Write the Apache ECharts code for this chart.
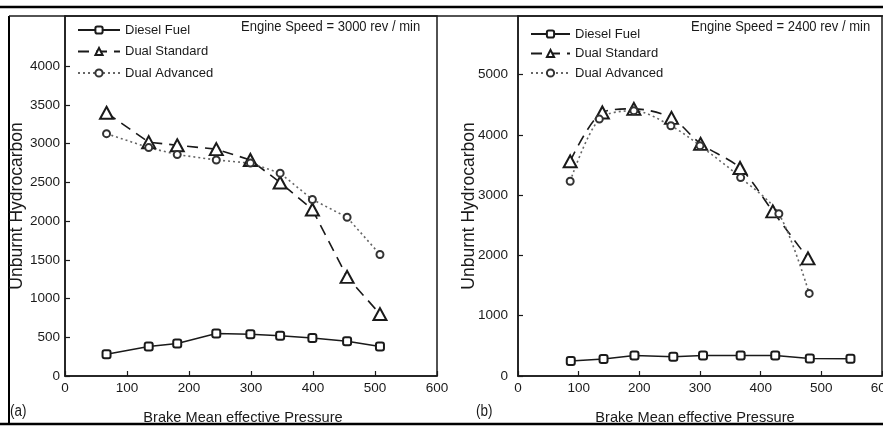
<!DOCTYPE html>
<html>
<head>
<meta charset="utf-8">
<script src="https://cdn.jsdelivr.net/npm/echarts@6/dist/echarts.min.js"></script>
<style>
html,body{margin:0;padding:0;background:#fff;}
#chart{width:883px;height:426px;}
</style>
</head>
<body>
<div id="chart"></div>
<script>
// ---- data ----
const seriesNames = ['Diesel Fuel', 'Dual Standard', 'Dual Advanced'];
const xTickLabels = [0, 100, 200, 300, 400, 500, 600];
const yTickLabelsA = [0, 500, 1000, 1500, 2000, 2500, 3000, 3500, 4000];
const yTickLabelsB = [0, 1000, 2000, 3000, 4000, 5000];

// Panel (a): 3000 rev/min
const bmepA = [67, 135, 181, 244, 299, 347, 399, 455, 508];
const dieselA = [280, 380, 420, 550, 540, 520, 490, 450, 380];
const standardA = [3400, 3020, 2980, 2930, 2790, 2500, 2150, 1280, 800];
const advancedA = [3130, 2950, 2860, 2790, 2750, 2620, 2280, 2050, 1570];

// Panel (b): 2400 rev/min
const bmepDieselB = [87, 141, 192, 256, 305, 367, 424, 481, 548];
const dieselB = [250, 280, 340, 320, 340, 340, 340, 290, 285];
const bmepStandardB = [86, 139, 191, 253, 301, 366, 420, 478];
const standardB = [3560, 4370, 4430, 4280, 3850, 3450, 2730, 1950];
const bmepAdvancedB = [86, 134, 191, 252, 300, 367, 430, 480];
const advancedB = [3230, 4260, 4400, 4150, 3820, 3290, 2690, 1370];

const pairs = (xs, ys) => xs.map((x, i) => [x, ys[i]]);

const SANS = '"Liberation Sans", Arial, sans-serif';
const INK = '#1a1a1a';
const plain = v => String(v);

function xAxisCfg(gi, shift) {
  return {
    type: 'value', gridIndex: gi, min: 0, max: 600, interval: 100,
    axisLine: { show: true, onZero: false, lineStyle: { color: INK, width: 1.5 } },
    axisTick: { show: true, inside: true, length: 5, lineStyle: { color: INK, width: 1.2 } },
    axisLabel: { fontFamily: SANS, fontSize: 13.5, color: INK, margin: 5,
      formatter: plain, hideOverlap: false },
    splitLine: { show: false },
    name: 'Brake Mean effective Pressure', nameLocation: 'middle', nameGap: 34,
    nameMoveOverlap: false,
    nameTextStyle: { fontFamily: SANS, fontSize: 14.6, color: INK, padding: [0, shift, 0, 0] }
  };
}
function yAxisCfg(gi, max, ticks, gap) {
  return {
    type: 'value', gridIndex: gi, min: 0, max: max,
    axisLine: { show: true, onZero: false, lineStyle: { color: INK, width: 1.5 } },
    axisTick: { show: true, inside: true, length: 5, lineStyle: { color: INK, width: 1.2 },
      customValues: ticks },
    axisLabel: { fontFamily: SANS, fontSize: 13.5, color: INK, margin: gi === 0 ? 5 : 10,
      customValues: ticks, formatter: plain },
    splitLine: { show: false },
    name: 'Unburnt Hydrocarbon', nameLocation: 'middle', nameGap: gap,
    nameMoveOverlap: false,
    nameTextStyle: { fontFamily: SANS, fontSize: 17.5, color: INK, padding: [0, 20, 0, 0] }
  };
}

const dieselStyle = {
  type: 'line', symbol: 'emptyRoundRect', symbolSize: [8, 8],
  lineStyle: { color: INK, width: 1.5, type: 'solid' },
  itemStyle: { color: INK, borderColor: INK, borderWidth: 1.5 }
};
const standardStyle = {
  type: 'line', symbol: 'emptyTriangle', symbolSize: [13, 12],
  lineStyle: { color: INK, width: 1.6, type: [11, 7] },
  itemStyle: { color: INK, borderColor: INK, borderWidth: 1.4 }
};
const advancedStyle = {
  type: 'line', symbol: 'emptyCircle', symbolSize: 7,
  lineStyle: { color: '#666', width: 1.6, type: [2, 3] },
  itemStyle: { color: '#333', borderColor: '#333', borderWidth: 1.4 }
};

function legendCfg(left, top, w, gap) {
  return {
    orient: 'vertical', left: left, top: top, itemWidth: w, itemHeight: 9, itemGap: gap,
    padding: 0, data: seriesNames, selectedMode: false,
    textStyle: { fontFamily: SANS, fontSize: 13, color: INK, lineHeight: 16 }
  };
}

function note(text, x, y, size) {
  return { type: 'text', x: x, y: y, scaleX: 0.84, silent: true,
    style: { text: text, font: size + 'px ' + SANS, fill: INK, textVerticalAlign: 'middle', verticalAlign: 'middle' } };
}

const option = {
  backgroundColor: '#fff',
  animation: false,
  grid: [
    { left: 65, top: 16, width: 372, height: 360, show: true, borderColor: INK, borderWidth: 1.5, outerBoundsMode: 'none', containLabel: false },
    { left: 518, top: 16, width: 364, height: 360, show: true, borderColor: INK, borderWidth: 1.5, outerBoundsMode: 'none', containLabel: false }
  ],
  xAxis: [xAxisCfg(0, 16), xAxisCfg(1, 10)],
  yAxis: [yAxisCfg(0, 4650, yTickLabelsA, 39), yAxisCfg(1, 5970, yTickLabelsB, 40)],
  legend: [legendCfg(77, 22, 42, 5.5), legendCfg(530, 26, 39, 3.5)],
  series: [
    Object.assign({ name: seriesNames[0], xAxisIndex: 0, yAxisIndex: 0, data: pairs(bmepA, dieselA) }, dieselStyle),
    Object.assign({ name: seriesNames[1], xAxisIndex: 0, yAxisIndex: 0, data: pairs(bmepA, standardA) }, standardStyle),
    Object.assign({ name: seriesNames[2], xAxisIndex: 0, yAxisIndex: 0, data: pairs(bmepA, advancedA) }, advancedStyle),
    Object.assign({ name: seriesNames[0], xAxisIndex: 1, yAxisIndex: 1, data: pairs(bmepDieselB, dieselB) }, dieselStyle),
    Object.assign({ name: seriesNames[1], xAxisIndex: 1, yAxisIndex: 1, smooth: 0.3, data: pairs(bmepStandardB, standardB) }, standardStyle),
    Object.assign({ name: seriesNames[2], xAxisIndex: 1, yAxisIndex: 1, smooth: 0.3, data: pairs(bmepAdvancedB, advancedB) }, advancedStyle)
  ],
  graphic: [
    { type: 'line', shape: { x1: 0, y1: 7, x2: 883, y2: 7 }, style: { stroke: '#000', lineWidth: 2.5 }, silent: true },
    { type: 'line', shape: { x1: 0, y1: 424, x2: 883, y2: 424 }, style: { stroke: '#000', lineWidth: 2.5 }, silent: true },
    { type: 'line', shape: { x1: 9, y1: 16, x2: 9, y2: 424 }, style: { stroke: '#000', lineWidth: 2 }, silent: true },
    { type: 'line', shape: { x1: 9, y1: 16, x2: 883, y2: 16 }, style: { stroke: INK, lineWidth: 1.5 }, silent: true },
    note('Engine Speed = 3000 rev / min', 241, 27, 15.5),
    note('Engine Speed = 2400 rev / min', 691, 27, 15.5),
    note('(a)', 10, 412, 16),
    note('(b)', 476, 412, 16)
  ]
};

const chart = echarts.init(document.getElementById('chart'), null, { renderer: 'canvas' });
chart.setOption(option);
</script>
</body>
</html>
